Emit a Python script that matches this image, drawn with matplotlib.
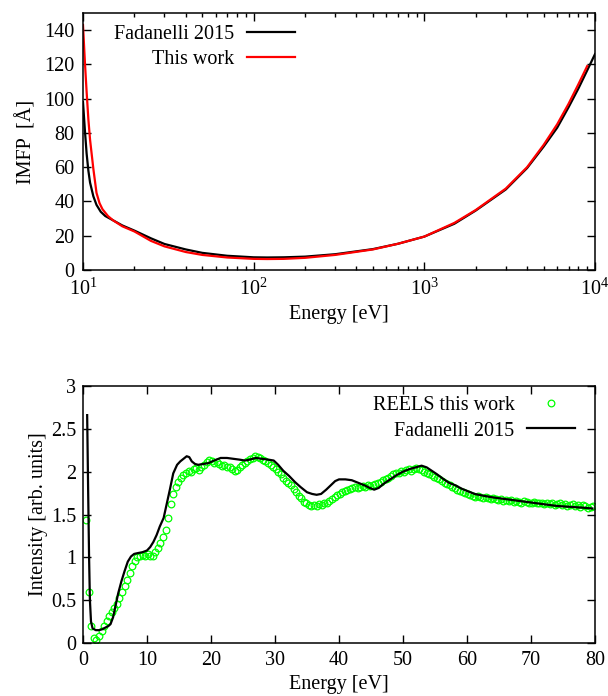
import numpy as np
import matplotlib
matplotlib.use('Agg')
import matplotlib.pyplot as plt

plt.rcParams['font.family'] = ['Liberation Serif', 'DejaVu Serif']
plt.rcParams['mathtext.fontset'] = 'stix'
plt.rcParams['font.size'] = 14.5

# IMFP (top panel)
fad_e = [10, 10.25, 10.5, 10.75, 11, 11.5, 12, 12.7, 13.5, 15, 17, 20, 25, 30, 40, 50, 70,
         100, 120, 150, 200, 300, 500, 700, 1000, 1500, 2000, 3000, 4000, 5000, 6000, 7000,
         8000, 9000, 10000]
fad_imfp = [98, 82, 68, 58, 51, 43, 38, 34, 31.5, 29, 26, 23, 18.5, 15.2, 12, 10, 8.3,
            7.4, 7.3, 7.4, 7.8, 9.2, 12.2, 15.3, 19.5, 27, 34.7, 47, 59.5, 72, 83, 95,
            106, 116.5, 126]
tw_e = [10, 10.25, 10.5, 10.75, 11, 11.5, 12, 12.5, 13, 14, 15, 17, 20, 25, 30, 40, 50, 70,
        100, 120, 150, 200, 300, 500, 700, 1000, 1500, 2000, 3000, 4000, 5000, 6000, 7000,
        8000, 9000]
tw_imfp = [143, 122, 104, 88, 76, 59, 45, 39, 35.5, 31.5, 29, 25.5, 22.5, 17, 13.8, 10.5, 8.8, 7.3,
           6.5, 6.4, 6.5, 7.1, 8.8, 12.0, 15.3, 19.5, 27.5, 35, 47.5, 60, 73, 85, 97,
           108.5, 119]

# REELS (bottom panel)
reels_e = np.arange(199) * 0.4 + 0.5
reels_i = [
    1.44, 0.60, 0.20, 0.06, 0.03, 0.08, 0.14, 0.20, 0.26, 0.31,
    0.36, 0.41, 0.46, 0.52, 0.59, 0.66, 0.74, 0.82, 0.90, 0.96,
    1.00, 1.02, 1.03, 1.02, 1.04, 1.01, 1.02, 1.06, 1.11, 1.17,
    1.24, 1.32, 1.46, 1.62, 1.74, 1.82, 1.88, 1.93, 1.96, 1.99,
    2.01, 2.00, 2.03, 2.04, 2.02, 2.06, 2.08, 2.11, 2.14, 2.12,
    2.10, 2.11, 2.09, 2.07, 2.08, 2.05, 2.06, 2.03, 2.01, 2.02,
    2.05, 2.08, 2.10, 2.13, 2.15, 2.16, 2.18, 2.17, 2.16, 2.14,
    2.12, 2.10, 2.08, 2.05, 2.03, 2.00, 1.97, 1.93, 1.89, 1.87,
    1.84, 1.80, 1.76, 1.72, 1.69, 1.65, 1.63, 1.61, 1.60, 1.61,
    1.60, 1.62, 1.61, 1.63, 1.64, 1.66, 1.68, 1.70, 1.73, 1.74,
    1.76, 1.77, 1.79, 1.80, 1.81, 1.82, 1.81, 1.82, 1.83, 1.82,
    1.84, 1.83, 1.85, 1.86, 1.87, 1.88, 1.90, 1.91, 1.93, 1.95,
    1.97, 1.98, 1.99, 2.01, 2.00, 2.02, 2.03, 2.01, 2.03, 2.04,
    2.03, 2.02, 2.00, 1.99, 1.97, 1.96, 1.94, 1.93, 1.91, 1.89,
    1.87, 1.86, 1.84, 1.82, 1.81, 1.79, 1.78, 1.76, 1.75, 1.74,
    1.73, 1.72, 1.71, 1.72, 1.70, 1.69, 1.70, 1.69, 1.68, 1.69,
    1.68, 1.67, 1.68, 1.66, 1.67, 1.66, 1.67, 1.65, 1.66, 1.65,
    1.64, 1.66, 1.65, 1.64, 1.63, 1.65, 1.64, 1.63, 1.64, 1.62,
    1.63, 1.62, 1.63, 1.61, 1.62, 1.63, 1.61, 1.62, 1.60, 1.61,
    1.62, 1.60, 1.61, 1.59, 1.61, 1.60, 1.58, 1.59, 1.60]

fad_loss_e = [0.65, 0.8, 0.95, 1.08, 1.25, 1.5, 2.0, 2.5, 3.0, 3.5, 4.0, 4.3, 4.7, 5.1, 5.5, 6.0,
              6.5, 7.0, 7.5, 8.0, 8.6, 9.3, 10.0, 10.5, 11.0, 11.5, 12.0, 12.6, 13.1, 13.6, 14.1,
              14.7, 15.2, 15.7, 16.2, 16.6, 17.0, 17.5, 18.0, 18.8, 19.6, 20.5, 21.5, 22.5, 23.5,
              24.5, 25.3, 26.0, 27.0, 28.0, 29.0, 29.8, 30.5, 31.3, 32.2, 33.1, 34.0, 35.0, 35.8,
              36.5, 37.2, 38.0, 38.7, 39.4, 40.0, 41.0, 42.0, 43.0, 44.0, 44.8, 45.5, 46.2, 47.0,
              48.0, 49.0, 50.0, 51.0, 52.0, 52.9, 53.7, 54.5, 55.3, 56.2, 57.2, 58.2, 59.2, 60.2,
              61.2, 62.5, 64.0, 66.0, 68.0, 70.0, 72.0, 74.0, 76.0, 78.0, 79.6]
fad_loss_i = [2.66, 1.8, 1.0, 0.5, 0.25, 0.17, 0.15, 0.15, 0.16, 0.18, 0.20, 0.22, 0.30, 0.44, 0.58,
              0.72, 0.84, 0.95, 1.01, 1.04, 1.05, 1.06, 1.08, 1.12, 1.18, 1.26, 1.36, 1.46, 1.63,
              1.80, 1.98, 2.08, 2.12, 2.15, 2.18, 2.17, 2.12, 2.09, 2.08, 2.09, 2.10, 2.13, 2.16,
              2.16, 2.15, 2.14, 2.13, 2.14, 2.16, 2.15, 2.14, 2.13, 2.08, 2.01, 1.95, 1.88, 1.82,
              1.76, 1.74, 1.73, 1.74, 1.79, 1.84, 1.89, 1.91, 1.91, 1.90, 1.87, 1.84, 1.81, 1.79,
              1.81, 1.86, 1.91, 1.96, 2.00, 2.03, 2.05, 2.07, 2.05, 2.01, 1.97, 1.92, 1.87, 1.84,
              1.80, 1.77, 1.74, 1.72, 1.70, 1.68, 1.66, 1.64, 1.62, 1.60, 1.59, 1.58, 1.57]


def style(ax):
    ax.tick_params(which='both', direction='in', top=True, right=True, width=1)
    ax.tick_params(which='major', length=6, pad=6)
    ax.tick_params(which='minor', length=3)
    for s in ax.spines.values():
        s.set_linewidth(1.1)


fig = plt.figure(figsize=(6.08, 6.96), dpi=100)

ax = fig.add_axes([83 / 608, 1 - 270 / 696, 512 / 608, 257 / 696])
ax.plot(fad_e, fad_imfp, '-', color='black', lw=1.6, label='Fadanelli 2015')
ax.plot(tw_e, tw_imfp, '-', color='red', lw=1.6, label='This work')
ax.set_xscale('log')
ax.set_xlim(10, 1e4)
ax.set_ylim(0, 150)
ax.set_yticks(np.arange(0, 141, 20))
style(ax)
ax.set_xlabel('Energy [eV]', labelpad=4)
ax.set_ylabel('IMFP  [Å]', labelpad=6)
ax.legend(loc='upper right', bbox_to_anchor=(0.414, 0.955), frameon=False, markerfirst=False,
          borderpad=0, borderaxespad=0, handlelength=2.4, handletextpad=0.6, labelspacing=0.3)

ax2 = fig.add_axes([83 / 608, 1 - 643 / 696, 512 / 608, 257 / 696])
ax2.plot(reels_e, reels_i, 'o', mfc='none', mec='#00ff00', ms=4.8, mew=0.9,
         label='REELS this work')
ax2.plot(fad_loss_e, fad_loss_i, '-', color='black', lw=1.6, label='Fadanelli 2015')
ax2.set_xlim(0, 80)
ax2.set_ylim(0, 3)
ax2.set_xticks(np.arange(0, 81, 10))
ax2.set_yticks([0, 0.5, 1, 1.5, 2, 2.5, 3])
ax2.set_yticklabels(['0', '0.5', '1', '1.5', '2', '2.5', '3'])
style(ax2)
ax2.tick_params(which='major', pad=6)
ax2.tick_params(axis='y', which='major', pad=5)
ax2.set_xlabel('Energy [eV]', labelpad=3)
ax2.set_ylabel('Intensity [arb. units]', labelpad=2)
ax2.legend(loc='upper right', bbox_to_anchor=(0.961, 0.96), frameon=False, markerfirst=False,
           numpoints=1, borderpad=0, borderaxespad=0, handlelength=2.4, handletextpad=0.6,
           labelspacing=0.3)

fig.savefig('out.png', dpi=100)
